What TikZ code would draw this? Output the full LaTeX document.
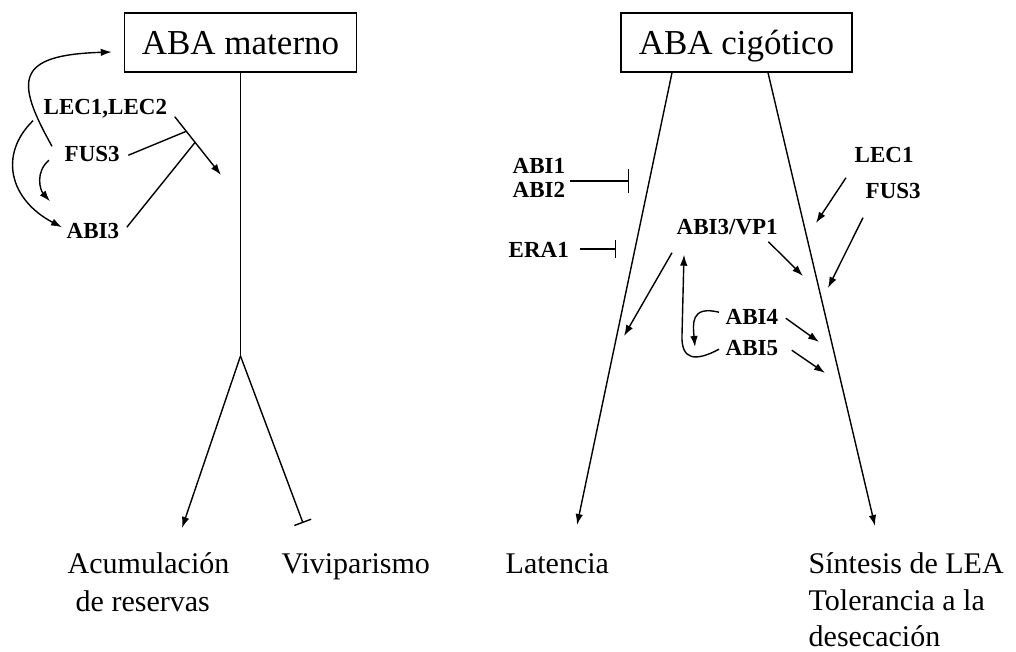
\documentclass[tikz,border=0pt]{standalone}
\usepackage{fontspec}
\setmainfont{Liberation Serif}
\usetikzlibrary{arrows.meta,calc}

\begin{document}
\begin{tikzpicture}[x=1pt,y=-1pt,line width=1.4pt,
  >={Latex[length=11pt,width=7.5pt]},
  ababox/.style={draw,inner sep=0pt,minimum width=232pt,minimum height=59pt,
    text height=24pt,text depth=0pt,font=\fontsize{35}{40}\selectfont},
  gene/.style={inner sep=1pt,text height=15.5pt,text depth=0pt,anchor=base west,
    font=\bfseries\fontsize{23}{27}\selectfont},
  outcome/.style={inner sep=0pt,anchor=base west,font=\fontsize{30}{36}\selectfont},
  blocks/.style={-{Bar[width=#1]}}]
\useasboundingbox (0,0) rectangle (1016,652);

% ---------- maternal ABA ----------
\node[ababox] (mat) at (240.5,42.5) {ABA materno};
\coordinate (fork) at (240.5,356);
\coordinate (acumTip) at (182,528);
\coordinate (viviBar) at (303,523);
\draw (mat.south) -- (fork);
\draw[->] (fork) -- (acumTip);
\draw[blocks=18pt] (fork) -- (viviBar);

\node[gene] (lec12) at (42,115) {LEC1,LEC2};
\node[gene] (fusL) at (63,162) {FUS3};
\node[gene] (abi3L) at (65,238) {ABI3};

\coordinate (lecOut) at ($(lec12.south east)+(6,0)$);
\coordinate (lecTip) at (221,175);
\draw[->] (lecOut) -- (lecTip);
\draw ($(fusL.east)+(7,1)$) -- ($(lecOut)!0.25!(lecTip)$);
\draw ($(abi3L.east)+(6,-3)$) -- ($(lecOut)!0.44!(lecTip)$);

\draw[->] ($(fusL.north west)+(-11,1.5)$) .. controls (15,80) and (15,55) .. ($(mat.west)+(-12,9.5)$);
\draw[->] ($(lec12.south west)+(-9,4)$) .. controls (-2,155) and (10,200) .. ($(abi3L.west)+(-3,-3)$);
\draw[->] ($(fusL.west)+(-14,6)$) .. controls (35,172) and (40,190) .. ($(abi3L.north west)+(-15,-19.5)$);

% ---------- zygotic ABA ----------
\node[ababox,minimum width=231pt] (cig) at (736.5,42.5) {ABA cigótico};
\coordinate (latTip) at (577,525);
\coordinate (sinTip) at (875,526);
\draw[->] ([xshift=-64.5pt]cig.south) -- (latTip);
\draw[->] ([xshift=31.5pt]cig.south) -- (sinTip);

\node[gene] (abi1) at (511,174) {ABI1};
\node[gene] (abi2) at (511,198) {ABI2};
\coordinate (abiBar) at (629,181);
\draw[blocks=24pt] ([xshift=3pt]abiBar -| abi1.east) -- (abiBar);

\node[gene] (era) at (507,258) {ERA1};
\coordinate (eraBar) at (616,249);
\draw[blocks=18pt] ([xshift=10pt]eraBar -| era.east) -- (eraBar);

\node[gene] (vp1) at (675,235) {ABI3/VP1};
\coordinate (latHit) at (624,336);
\coordinate (sinHit1) at (803,276);
\draw[->] ($(vp1.south west)+(-3,16)$) -- (latHit);
\draw[->] ($(vp1.south east)+(-11,5)$) -- (sinHit1);

\node[gene] (abi4) at (724,324) {ABI4};
\node[gene] (abi5) at (724,355) {ABI5};
\coordinate (sinHit2) at (819,342);
\coordinate (sinHit3) at (825,373);
\draw[->] ($(abi4.east)+(6,2)$) -- (sinHit2);
\draw[->] ($(abi5.east)+(12,3)$) -- (sinHit3);
\draw[->] ($(abi4.west)+(-5,-4)$) .. controls (690,305) and (693,325) .. (695,347);
\draw[->] ($(abi5.west)+(-5,2)$) .. controls (695,362) and (681,360) .. (682,335)
  -- ($(vp1.south west)+(9,18)$);

\node[gene] (lec1R) at (853,163) {LEC1};
\node[gene] (fus3R) at (864,199) {FUS3};
\coordinate (lecHit) at (816,223);
\coordinate (fusHit) at (828,288);
\draw[->] ($(lec1R.south west)+(-7,13)$) -- (lecHit);
\draw[->] ($(fus3R.south west)+(-1,17)$) -- (fusHit);

% ---------- outcomes ----------
\node[outcome] (acum1) at (67,573) {Acumulación};
\node[outcome] (acum2) at (75,611) {de reservas};
\node[outcome] (vivi) at (281,573) {Viviparismo};
\node[outcome] (lat) at (505,573) {Latencia};
\node[outcome] (sin1) at (808,573) {Síntesis de LEA};
\node[outcome] (sin2) at (808,610) {Tolerancia a la};
\node[outcome] (sin3) at (808,646) {desecación};
\end{tikzpicture}
\end{document}
